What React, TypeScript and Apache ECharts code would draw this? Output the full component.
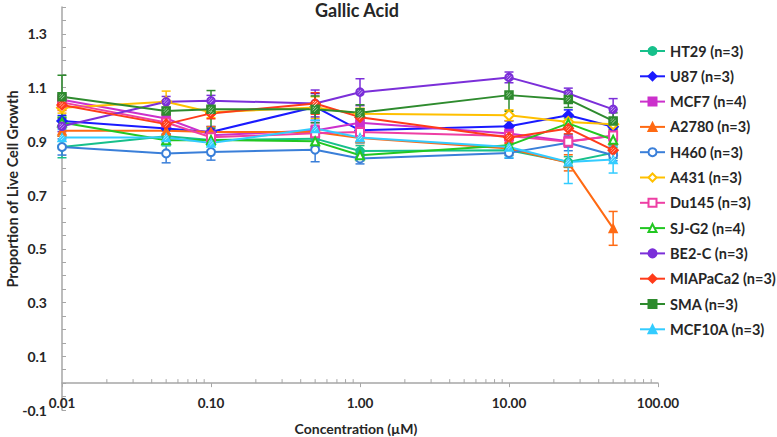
import React, { useEffect, useRef } from "react";
import * as echarts from "echarts";

const CONCENTRATIONS = [0.01, 0.05, 0.1, 0.5, 1, 10, 25, 50];
const X_TICK_LABELS = ["0.01", "0.10", "1.00", "10.00", "100.00"];

const HT29 = [0.879, 0.919, 0.905, 0.91, 0.864, 0.867, 0.823, 0.857];
const HT29_ERR = [0.04, 0.02, 0.02, 0.02, 0.02, 0.02, 0.02, 0.02];
const U87 = [0.976, 0.948, 0.935, 1.028, 0.941, 0.956, 0.997, 0.954];
const U87_ERR = [0.02, 0.02, 0.02, 0.05, 0.02, 0.02, 0.02, 0.02];
const MCF7 = [1.055, 0.985, 0.923, 0.94, 0.969, 0.929, 0.9, 0.92];
const MCF7_ERR = [0.02, 0.02, 0.02, 0.03, 0.02, 0.02, 0.02, 0.02];
const A2780 = [0.939, 0.939, 0.935, 0.935, 0.912, 0.873, 0.82, 0.576];
const A2780_ERR = [0.02, 0.02, 0.02, 0.02, 0.02, 0.02, 0.03, 0.063];
const H460 = [0.879, 0.855, 0.86, 0.869, 0.836, 0.857, 0.895, 0.848];
const H460_ERR = [0.03, 0.035, 0.03, 0.045, 0.02, 0.02, 0.03, 0.02];
const A431 = [1.025, 1.047, 1.008, 1.026, 1.003, 0.997, 0.972, 0.964];
const A431_ERR = [0.02, 0.04, 0.02, 0.04, 0.02, 0.02, 0.02, 0.02];
const DU145 = [1.045, 0.97, 0.915, 0.93, 0.935, 0.92, 0.898, 0.922];
const DU145_ERR = [0.02, 0.03, 0.02, 0.03, 0.02, 0.02, 0.02, 0.02];
const SJG2 = [0.97, 0.904, 0.905, 0.9, 0.848, 0.885, 0.967, 0.906];
const SJG2_ERR = [0.02, 0.02, 0.02, 0.02, 0.02, 0.02, 0.02, 0.02];
const BE2C = [0.956, 1.047, 1.051, 1.041, 1.083, 1.138, 1.078, 1.019];
const BE2C_ERR = [0.02, 0.02, 0.02, 0.05, 0.05, 0.02, 0.02, 0.04];
const MIAPACA2 = [1.035, 0.964, 1.004, 1.041, 0.99, 0.914, 0.948, 0.867];
const MIAPACA2_ERR = [0.02, 0.02, 0.02, 0.04, 0.02, 0.02, 0.02, 0.02];
const SMA = [1.066, 1.013, 1.019, 1.019, 1.006, 1.072, 1.056, 0.976];
const SMA_ERR = [0.08, 0.03, 0.07, 0.05, 0.03, 0.06, 0.03, 0.03];
const MCF10A = [0.914, 0.914, 0.894, 0.948, 0.914, 0.879, 0.823, 0.832];
const MCF10A_ERR = [0.03, 0.03, 0.03, 0.03, 0.02, 0.04, 0.08, 0.05];

const CELL_LINES = [
  { name: "HT29 (n=3)", color: "#17c08b", symbol: "circle", hatch: false, values: HT29, err: HT29_ERR },
  { name: "U87 (n=3)", color: "#1a1aff", symbol: "diamond", hatch: false, values: U87, err: U87_ERR },
  { name: "MCF7 (n=4)", color: "#cc30cc", symbol: "rect", hatch: false, values: MCF7, err: MCF7_ERR },
  { name: "A2780 (n=3)", color: "#ff6a13", symbol: "triangle", hatch: false, values: A2780, err: A2780_ERR },
  { name: "H460 (n=3)", color: "#3a7fd9", symbol: "emptyCircle", hatch: false, values: H460, err: H460_ERR },
  { name: "A431 (n=3)", color: "#ffc000", symbol: "emptyDiamond", hatch: false, values: A431, err: A431_ERR },
  { name: "Du145 (n=3)", color: "#ee3fa4", symbol: "emptyRect", hatch: false, values: DU145, err: DU145_ERR },
  { name: "SJ-G2 (n=4)", color: "#22c722", symbol: "emptyTriangle", hatch: false, values: SJG2, err: SJG2_ERR },
  { name: "BE2-C (n=3)", color: "#7b2fd9", symbol: "circle", hatch: true, values: BE2C, err: BE2C_ERR },
  { name: "MIAPaCa2 (n=3)", color: "#ff3b1a", symbol: "diamond", hatch: true, values: MIAPACA2, err: MIAPACA2_ERR },
  { name: "SMA (n=3)", color: "#2e8b2e", symbol: "rect", hatch: true, values: SMA, err: SMA_ERR },
  { name: "MCF10A (n=3)", color: "#33ccff", symbol: "triangle", hatch: true, values: MCF10A, err: MCF10A_ERR },
];

const FONT = "Lato, 'Open Sans', sans-serif";
const AXIS_COLOR = "#a6a6a6";
const TEXT_COLOR = "#262626";
const HATCH_PATH =
  "path://M0,2 L2,0 L3.2,0 L0,3.2 Z M0,6.5 L6.5,0 L7.8,0 L0,7.8 Z M2.2,10 L10,2.2 L10,3.5 L3.5,10 Z M9.9,9.9 L10,10 L9.9,10 Z";

const GRID_TOP = 7;
const GRID_BOTTOM = 27;
const CHART_H = 437;
const Y_MIN = -0.1;
const Y_MAX = 1.4;

function minorLogTicks(): number[][] {
  const out: number[][] = [];
  for (let d = 0.01; d < 99; d *= 10) {
    for (let k = 2; k <= 9; k++) out.push([parseFloat((d * k).toPrecision(3)), 0]);
  }
  return out;
}

export default function App() {
  const ref = useRef<HTMLDivElement>(null);

  useEffect(() => {
    if (!ref.current) return;
    const chart = echarts.init(ref.current, null, { renderer: "svg" });

    const series: any[] = [];
    CELL_LINES.forEach((c) => {
      series.push({
        type: "custom",
        name: c.name + " err",
        data: CONCENTRATIONS.map((x, i) => [x, c.values[i] - c.err[i], c.values[i] + c.err[i]]),
        encode: { x: 0, y: [1, 2] },
        z: 1,
        silent: true,
        renderItem: (params: any, api: any) => {
          const x = api.value(0);
          const lo = api.coord([x, api.value(1)]);
          const hi = api.coord([x, api.value(2)]);
          const style = { stroke: c.color, lineWidth: 1.5 };
          return {
            type: "group",
            children: [
              { type: "line", shape: { x1: lo[0], y1: lo[1], x2: hi[0], y2: hi[1] }, style },
              { type: "line", shape: { x1: lo[0] - 4.5, y1: lo[1], x2: lo[0] + 4.5, y2: lo[1] }, style },
              { type: "line", shape: { x1: hi[0] - 4.5, y1: hi[1], x2: hi[0] + 4.5, y2: hi[1] }, style },
            ],
          };
        },
      });
    });
    CELL_LINES.forEach((c) => {
      series.push({
        type: "line",
        name: c.name,
        data: CONCENTRATIONS.map((x, i) => [x, c.values[i]]),
        symbol: c.symbol,
        symbolSize: c.symbol.toLowerCase().includes("diamond") ? 10 : 8,
        showAllSymbol: true,
        lineStyle: { color: c.color, width: 2 },
        itemStyle: { color: c.color, borderColor: c.color, borderWidth: 1.5 },
        z: 3,
      });
      if (c.hatch) {
        series.push({
          type: "line",
          name: c.name + " hatch",
          data: CONCENTRATIONS.map((x, i) => [x, c.values[i]]),
          symbol: HATCH_PATH,
          symbolSize: 5,
          showAllSymbol: true,
          lineStyle: { opacity: 0, width: 0 },
          itemStyle: { color: "#ffffff", opacity: 0.85 },
          z: 4,
          silent: true,
        });
      }
    });
    series.push({
      type: "custom",
      name: "minor ticks",
      data: minorLogTicks(),
      encode: { x: 0, y: 1 },
      silent: true,
      z: 2,
      renderItem: (params: any, api: any) => {
        const p = api.coord([api.value(0), 0]);
        return {
          type: "line",
          shape: { x1: p[0], y1: p[1], x2: p[0], y2: p[1] - 4 },
          style: { stroke: AXIS_COLOR, lineWidth: 1 },
        };
      },
    });

    // distance (px) between the y=min edge of the grid and y=0, to lift the x axis onto zero
    const plotH = CHART_H - GRID_TOP - GRID_BOTTOM;
    const zeroLift = (plotH * (0 - Y_MIN)) / (Y_MAX - Y_MIN);

    chart.setOption({
      animation: false,
      textStyle: { fontFamily: FONT },
      graphic: [
        {
          type: "text",
          x: 357,
          y: 10,
          style: {
            text: "Gallic Acid",
            font: `bold 18px ${FONT}`,
            fill: TEXT_COLOR,
            textAlign: "center",
            textVerticalAlign: "middle",
          },
        },
        {
          type: "text",
          x: 12,
          y: 189,
          rotation: Math.PI / 2,
          style: {
            text: "Proportion of Live Cell Growth",
            font: `bold 14.5px ${FONT}`,
            fill: TEXT_COLOR,
            textAlign: "center",
            textVerticalAlign: "middle",
          },
        },
        {
          type: "text",
          x: 356,
          y: 428,
          style: {
            text: "Concentration (µM)",
            font: `bold 14px ${FONT}`,
            fill: TEXT_COLOR,
            textAlign: "center",
            textVerticalAlign: "middle",
          },
        },
      ],
      grid: { left: 62, right: 119, top: GRID_TOP, bottom: GRID_BOTTOM, containLabel: false, outerBoundsMode: "none" },
      legend: {
        orient: "vertical",
        left: 639,
        top: 43,
        padding: 0,
        itemWidth: 25,
        itemHeight: 10,
        itemGap: 9.3,
        data: CELL_LINES.map((c) => c.name),
        textStyle: { fontFamily: FONT, fontSize: 14.5, fontWeight: "bold", color: TEXT_COLOR, lineHeight: 16 },
      },
      xAxis: {
        type: "log",
        logBase: 10,
        min: 0.01,
        max: 100,
        offset: -zeroLift,
        axisLine: { show: true, onZero: false, lineStyle: { color: AXIS_COLOR, width: 1.5 } },
        axisTick: { show: true, inside: false, length: 4, lineStyle: { color: AXIS_COLOR } },
        splitLine: { show: false },
        axisLabel: {
          fontFamily: FONT,
          fontSize: 13.5,
          fontWeight: "bold",
          color: TEXT_COLOR,
          margin: 13,
          formatter: (v: number) => {
            const idx = Math.round(Math.log10(v)) + 2;
            return X_TICK_LABELS[idx] ?? v.toFixed(2);
          },
        },
      },
      yAxis: {
        type: "value",
        min: Y_MIN,
        max: Y_MAX,
        interval: 0.1,
        axisLine: { show: true, lineStyle: { color: AXIS_COLOR, width: 1.5 } },
        axisTick: { show: true, inside: true, length: 4, lineStyle: { color: AXIS_COLOR } },
        minorTick: { show: true, splitNumber: 2, length: 4, lineStyle: { color: AXIS_COLOR } },
        splitLine: { show: false },
        minorSplitLine: { show: false },
        axisLabel: {
          fontFamily: FONT,
          fontSize: 14,
          fontWeight: "bold",
          color: TEXT_COLOR,
          margin: 15,
          formatter: (v: number) => {
            const t = Math.round(v * 10);
            return Math.abs(t) % 2 === 1 ? v.toFixed(1) : "";
          },
        },
      },
      series,
    });

    return () => chart.dispose();
  }, []);

  return <div ref={ref} style={{ position: "absolute", left: 0, top: 0, width: 777, height: 437 }} />;
}
